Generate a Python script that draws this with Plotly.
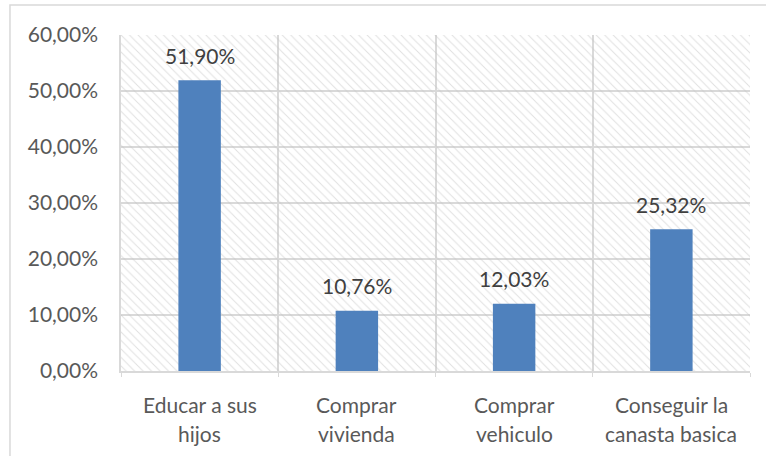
import plotly.graph_objects as go

category_lines = [
    ["Educar a sus", "hijos"],
    ["Comprar", "vivienda"],
    ["Comprar", "vehiculo"],
    ["Conseguir la", "canasta basica"],
]
categories = [" ".join(lines) for lines in category_lines]
values = [0.5190, 0.1076, 0.1203, 0.2532]
y_max = 0.60
y_ticks = [0, 0.1, 0.2, 0.3, 0.4, 0.5, 0.6]

text_color = "#595959"
grid_color = "#d9d9d9"
font_family = "Lato, 'Liberation Sans', sans-serif"
font_size = 21

fig = go.Figure()

# hatched plot-area background: one full-width transparent bar per category
fig.add_trace(go.Bar(
    x=categories,
    y=[y_max] * len(categories),
    width=1,
    marker=dict(
        color="rgba(0,0,0,0)",
        line=dict(width=0),
        pattern=dict(shape="\\", fgcolor="#c2c2c2", bgcolor="rgba(0,0,0,0)",
                     size=6, solidity=0.17),
    ),
    hoverinfo="skip",
    showlegend=False,
))

# data bars
fig.add_trace(go.Bar(
    x=categories,
    y=values,
    width=0.27,
    marker=dict(color="#4f81bd", line=dict(width=0)),
    showlegend=False,
))

annotations = []
# value labels above the bars
for cat, val in zip(categories, values):
    annotations.append(dict(
        x=cat, y=val, xref="x", yref="y",
        text=f"{val * 100:.2f}%".replace(".", ","),
        showarrow=False, yanchor="middle", yshift=25,
        font=dict(size=font_size, color="#404040", family=font_family),
    ))
# two-line category labels under the axis
for cat, lines in zip(categories, category_lines):
    for i, line in enumerate(lines):
        annotations.append(dict(
            x=cat, y=0, xref="x", yref="paper",
            text=line, showarrow=False, yanchor="middle",
            yshift=-33 - 29 * i,
            font=dict(size=font_size, color=text_color, family=font_family),
        ))

fig.update_layout(
    width=766,
    height=456,
    barmode="overlay",
    separators=",.",
    paper_bgcolor="white",
    plot_bgcolor="white",
    margin=dict(l=121, r=16, t=35, b=85),
    font=dict(family=font_family, size=font_size, color=text_color),
    annotations=annotations,
    xaxis=dict(
        tickson="boundaries",
        showgrid=True,
        gridcolor=grid_color,
        gridwidth=1.5,
        showline=True,
        linecolor=grid_color,
        linewidth=1.5,
        ticks="outside",
        ticklen=4,
        tickcolor=grid_color,
        showticklabels=False,
    ),
    yaxis=dict(
        range=[0, y_max],
        tickvals=y_ticks,
        tickformat=".2%",
        showgrid=True,
        gridcolor=grid_color,
        gridwidth=1.5,
        zeroline=False,
        showline=True,
        linecolor=grid_color,
        linewidth=1.5,
        ticks="",
        ticklabelstandoff=17,
        tickfont=dict(size=font_size, color=text_color),
    ),
    shapes=[dict(
        type="rect", xref="paper", yref="paper",
        x0=-0.1765, x1=1.04, y0=-0.28, y1=1.089,
        line=dict(color="#d9d9d9", width=1.5),
        fillcolor="rgba(0,0,0,0)",
        layer="below",
    )],
)

fig.write_html("out.html")
